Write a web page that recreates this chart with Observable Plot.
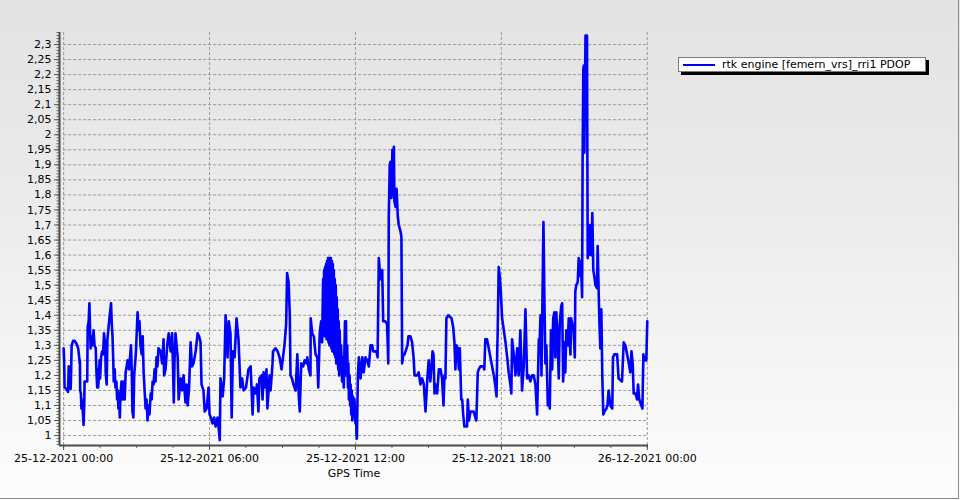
<!DOCTYPE html>
<html><head><meta charset="utf-8">
<script src="https://cdn.jsdelivr.net/npm/d3@7"></script>
<script src="https://cdn.jsdelivr.net/npm/@observablehq/plot@0.6"></script>
<style>
html,body{margin:0;padding:0;background:#fff;}
#wrap{position:relative;width:960px;height:500px;overflow:hidden;background:linear-gradient(to bottom,#e3e3e3 0%,#ebebeb 40%,#fdfdfd 100%);font-family:"DejaVu Sans",sans-serif;}
#chart svg{display:block;}
#frame{position:absolute;left:0;top:0;width:958px;height:498px;border-right:1px solid #8c8c8c;border-bottom:1px solid #8c8c8c;pointer-events:none;}
#legend{position:absolute;left:678px;top:57px;width:246px;height:13px;background:#fff;border:1px solid #7a7a7a;box-shadow:3px 3px 0 #000;font-size:11px;}
#legend .sw{position:absolute;left:4px;top:6px;width:32px;height:2px;background:#0000ff;}
#legend .tx{position:absolute;left:43px;top:0;line-height:13px;white-space:nowrap;color:#000;}
</style></head>
<body>
<div id="wrap"><div id="chart"></div><div id="legend"><div class="sw"></div><div class="tx"></div></div><div id="frame"></div></div>
<script>
// PDOP readings: [hour of 25-12-2021, PDOP]
const pdop0006 = [[0.00,1.29],[0.02,1.25],[0.04,1.16],[0.12,1.155],[0.18,1.145],[0.21,1.23],[0.25,1.17],[0.29,1.155],[0.31,1.22],[0.33,1.30],[0.39,1.315],[0.45,1.315],[0.53,1.305],[0.60,1.29],[0.64,1.26],[0.66,1.24],[0.67,1.25],[0.68,1.15],[0.71,1.14],[0.73,1.09],[0.76,1.12],[0.78,1.09],[0.82,1.035],[0.85,1.11],[0.86,1.18],[0.97,1.18],[0.99,1.36],[1.03,1.38],[1.06,1.44],[1.09,1.34],[1.11,1.29],[1.15,1.33],[1.19,1.30],[1.23,1.35],[1.27,1.30],[1.32,1.29],[1.35,1.21],[1.38,1.16],[1.40,1.22],[1.42,1.16],[1.45,1.20],[1.48,1.25],[1.50,1.19],[1.54,1.26],[1.58,1.28],[1.62,1.27],[1.66,1.34],[1.71,1.30],[1.73,1.21],[1.77,1.17],[1.80,1.32],[1.87,1.38],[1.95,1.44],[1.98,1.37],[2.01,1.33],[2.04,1.25],[2.06,1.18],[2.10,1.22],[2.13,1.16],[2.17,1.18],[2.20,1.12],[2.23,1.15],[2.25,1.09],[2.28,1.13],[2.31,1.06],[2.34,1.14],[2.38,1.18],[2.42,1.12],[2.47,1.18],[2.51,1.12],[2.55,1.21],[2.63,1.25],[2.69,1.22],[2.77,1.30],[2.80,1.22],[2.83,1.08],[2.87,1.06],[2.90,1.20],[2.95,1.25],[2.98,1.29],[3.04,1.41],[3.08,1.35],[3.12,1.38],[3.16,1.30],[3.21,1.27],[3.25,1.33],[3.29,1.21],[3.33,1.15],[3.37,1.09],[3.41,1.12],[3.45,1.05],[3.49,1.10],[3.53,1.07],[3.58,1.14],[3.62,1.12],[3.66,1.18],[3.70,1.17],[3.74,1.22],[3.78,1.18],[3.82,1.26],[3.86,1.23],[3.90,1.29],[3.99,1.28],[4.05,1.24],[4.11,1.32],[4.13,1.20],[4.19,1.22],[4.27,1.31],[4.32,1.34],[4.40,1.28],[4.46,1.34],[4.50,1.22],[4.53,1.11],[4.56,1.25],[4.60,1.34],[4.69,1.26],[4.73,1.12],[4.81,1.19],[4.87,1.15],[4.93,1.20],[5.01,1.11],[5.06,1.17],[5.10,1.10],[5.16,1.16],[5.22,1.31],[5.28,1.23],[5.34,1.24],[5.43,1.28],[5.51,1.34],[5.57,1.33],[5.63,1.31],[5.67,1.17],[5.75,1.15],[5.80,1.08],[5.88,1.09],[5.96,1.16]];
const pdop0612 = [[6.00,1.07],[6.06,1.06],[6.12,1.04],[6.19,1.06],[6.25,1.03],[6.33,1.06],[6.37,1.03],[6.42,0.985],[6.45,1.19],[6.54,1.13],[6.60,1.19],[6.66,1.40],[6.72,1.30],[6.74,1.26],[6.79,1.38],[6.86,1.34],[6.91,1.06],[6.96,1.28],[7.03,1.26],[7.11,1.39],[7.19,1.32],[7.27,1.16],[7.34,1.19],[7.40,1.15],[7.50,1.16],[7.60,1.22],[7.69,1.23],[7.77,1.07],[7.81,1.16],[7.89,1.14],[7.95,1.17],[8.01,1.08],[8.05,1.19],[8.14,1.20],[8.18,1.12],[8.22,1.21],[8.28,1.16],[8.34,1.22],[8.38,1.09],[8.47,1.20],[8.51,1.15],[8.59,1.24],[8.61,1.28],[8.71,1.29],[8.80,1.28],[8.88,1.26],[8.96,1.22],[9.02,1.26],[9.08,1.30],[9.15,1.37],[9.19,1.54],[9.25,1.51],[9.30,1.40],[9.33,1.20],[9.39,1.19],[9.45,1.17],[9.54,1.15],[9.61,1.27],[9.67,1.13],[9.71,1.08],[9.77,1.24],[9.85,1.23],[9.91,1.25],[9.98,1.24],[10.02,1.26],[10.08,1.22],[10.15,1.20],[10.16,1.39],[10.22,1.34],[10.29,1.33],[10.36,1.27],[10.43,1.26],[10.47,1.16],[10.53,1.34],[10.59,1.38],[10.63,1.31],[10.67,1.52],[10.69,1.36],[10.71,1.55],[10.73,1.33],[10.75,1.56],[10.77,1.34],[10.79,1.57],[10.81,1.32],[10.83,1.58],[10.85,1.35],[10.87,1.59],[10.89,1.31],[10.91,1.59],[10.93,1.30],[10.95,1.59],[10.97,1.33],[10.99,1.59],[11.01,1.29],[11.03,1.58],[11.05,1.28],[11.07,1.57],[11.09,1.30],[11.11,1.55],[11.13,1.27],[11.15,1.52],[11.17,1.26],[11.19,1.50],[11.21,1.24],[11.23,1.46],[11.25,1.25],[11.27,1.42],[11.29,1.22],[11.31,1.38],[11.33,1.20],[11.35,1.35],[11.38,1.22],[11.41,1.30],[11.45,1.18],[11.48,1.26],[11.52,1.16],[11.55,1.30],[11.57,1.38],[11.59,1.20],[11.61,1.38],[11.63,1.22],[11.66,1.30],[11.69,1.16],[11.71,1.24],[11.73,1.12],[11.76,1.20],[11.78,1.10],[11.80,1.17],[11.83,1.07],[11.85,1.15],[11.87,1.05],[11.90,1.13],[11.93,1.06],[11.96,1.12]];
const pdop1218 = [[12.00,1.04],[12.02,1.09],[12.04,1.01],[12.06,0.99],[12.10,1.20],[12.14,1.26],[12.21,1.19],[12.28,1.26],[12.34,1.21],[12.41,1.26],[12.48,1.25],[12.55,1.23],[12.62,1.30],[12.69,1.30],[12.73,1.28],[12.86,1.28],[12.91,1.26],[12.96,1.59],[13.03,1.52],[13.10,1.55],[13.14,1.38],[13.23,1.38],[13.30,1.37],[13.35,1.24],[13.37,1.73],[13.41,1.90],[13.44,1.91],[13.48,1.79],[13.52,1.95],[13.55,1.80],[13.58,1.96],[13.60,1.78],[13.65,1.76],[13.69,1.82],[13.74,1.73],[13.78,1.70],[13.85,1.68],[13.89,1.66],[13.92,1.24],[13.97,1.27],[14.02,1.27],[14.06,1.28],[14.14,1.30],[14.18,1.33],[14.26,1.33],[14.33,1.31],[14.39,1.26],[14.43,1.20],[14.54,1.20],[14.60,1.21],[14.67,1.17],[14.74,1.19],[14.81,1.17],[14.88,1.08],[14.95,1.18],[15.01,1.25],[15.08,1.18],[15.17,1.28],[15.21,1.27],[15.25,1.14],[15.30,1.17],[15.36,1.14],[15.43,1.22],[15.50,1.22],[15.56,1.19],[15.62,1.10],[15.66,1.20],[15.70,1.19],[15.74,1.39],[15.82,1.40],[15.95,1.39],[16.02,1.36],[16.07,1.31],[16.11,1.22],[16.15,1.30],[16.21,1.29],[16.25,1.22],[16.29,1.29],[16.35,1.12],[16.39,1.12],[16.43,1.07],[16.48,1.03],[16.59,1.03],[16.62,1.12],[16.67,1.05],[16.73,1.08],[16.80,1.08],[16.86,1.08],[16.97,1.05],[17.03,1.21],[17.07,1.22],[17.14,1.23],[17.25,1.23],[17.30,1.22],[17.34,1.32],[17.41,1.32],[17.48,1.29],[17.55,1.26],[17.62,1.23],[17.69,1.20],[17.76,1.16],[17.80,1.13],[17.83,1.28],[17.85,1.35],[17.89,1.56],[17.93,1.53],[17.97,1.49]];
const pdop1824 = [[18.03,1.39],[18.10,1.35],[18.17,1.31],[18.24,1.26],[18.30,1.21],[18.37,1.17],[18.41,1.14],[18.44,1.32],[18.51,1.27],[18.58,1.20],[18.65,1.29],[18.71,1.20],[18.78,1.35],[18.85,1.15],[18.92,1.23],[18.99,1.42],[19.06,1.19],[19.12,1.20],[19.19,1.18],[19.26,1.20],[19.33,1.20],[19.40,1.17],[19.47,1.07],[19.54,1.32],[19.56,1.28],[19.61,1.40],[19.65,1.20],[19.73,1.71],[19.77,1.45],[19.81,1.24],[19.85,1.30],[19.91,1.10],[19.95,1.15],[19.99,1.09],[20.04,1.35],[20.09,1.22],[20.13,1.39],[20.18,1.41],[20.22,1.26],[20.26,1.41],[20.32,1.30],[20.36,1.19],[20.40,1.37],[20.46,1.43],[20.50,1.44],[20.54,1.18],[20.59,1.31],[20.63,1.21],[20.67,1.35],[20.73,1.30],[20.77,1.39],[20.81,1.31],[20.84,1.27],[20.87,1.39],[20.92,1.37],[20.97,1.35],[21.02,1.26],[21.04,1.48],[21.08,1.50],[21.14,1.51],[21.18,1.59],[21.22,1.58],[21.25,1.53],[21.28,1.56],[21.32,1.46],[21.34,1.91],[21.37,2.22],[21.39,2.23],[21.41,1.94],[21.46,2.33],[21.52,2.33],[21.55,1.59],[21.58,1.67],[21.60,1.60],[21.63,1.70],[21.66,1.69],[21.70,1.60],[21.74,1.74],[21.78,1.55],[21.82,1.53],[21.87,1.50],[21.93,1.49],[21.96,1.63],[22.00,1.48],[22.03,1.38],[22.07,1.29],[22.11,1.42],[22.15,1.20],[22.19,1.07],[22.24,1.08],[22.32,1.09],[22.36,1.10],[22.41,1.15],[22.48,1.10],[22.56,1.09],[22.59,1.26],[22.65,1.27],[22.76,1.27],[22.82,1.19],[22.96,1.18],[23.03,1.31],[23.10,1.30],[23.17,1.27],[23.24,1.24],[23.30,1.21],[23.35,1.28],[23.40,1.24],[23.44,1.14],[23.51,1.14],[23.58,1.12],[23.62,1.17],[23.67,1.12],[23.80,1.09],[23.84,1.27],[23.88,1.25],[23.96,1.25],[24.00,1.38]];

const yTickValues = [1,1.05,1.1,1.15,1.2,1.25,1.3,1.35,1.4,1.45,1.5,1.55,1.6,1.65,1.7,1.75,1.8,1.85,1.9,1.95,2,2.05,2.1,2.15,2.2,2.25,2.3];
const xTickHours = [0,6,12,18,24];
const xMinorHours = [0,1.5,3,4.5,6,7.5,9,10.5,12,13.5,15,16.5,18,19.5,21,22.5,24];
const seriesName = "rtk engine [femern_vrs]_rri1 PDOP";
const xTitle = "GPS Time";

const day0 = Date.UTC(2021, 11, 25);
const toDate = h => new Date(day0 + h * 3600000);
const data = [...pdop0006, ...pdop0612, ...pdop1218, ...pdop1824].map(([h, v]) => ({time: toDate(h), pdop: v}));
const xMajor = xTickHours.map(toDate);
const xMinor = xMinorHours.map(toDate);
const yMin = 0.967, yMax = 2.34;
const xLo = toDate(-0.17), xHi = toDate(24.05);
const yMinor = d3.range(97, 235).map(d => d / 100);
const fmtY = d => d.toFixed(2).replace(/0+$/, "").replace(/\.$/, "").replace(".", ",");
const fmtX = d3.utcFormat("%d-%m-%Y %H:%M");

const chart = Plot.plot({
  width: 960, height: 500,
  marginLeft: 59, marginRight: 312, marginTop: 32, marginBottom: 55,
  style: {background: "transparent", fontFamily: "DejaVu Sans, sans-serif", fontSize: "11px", color: "#000", overflow: "visible"},
  x: {type: "utc", domain: [xLo, xHi]},
  y: {domain: [yMin, yMax]},
  marks: [
    Plot.ruleY(yTickValues, {y: d => d, x1: () => xMajor[0], x2: () => xMajor[4], stroke: "#9a9a9a", strokeWidth: 1, strokeDasharray: "3,2"}),
    Plot.ruleX(xMajor, {x: d => d, y1: () => yMin, y2: () => yMax, stroke: "#9a9a9a", strokeWidth: 1, strokeDasharray: "3,2"}),
    Plot.axisY(yMinor, {anchor: "left", tickSize: 2.5, tickFormat: () => "", label: null, stroke: "#666"}),
    Plot.axisY(yTickValues, {anchor: "left", tickSize: 5, tickPadding: 3, tickFormat: fmtY, label: null, stroke: "#555"}),
    Plot.axisX(xMinor, {anchor: "bottom", tickSize: 3, tickFormat: () => "", label: null, stroke: "#666"}),
    Plot.axisX(xMajor, {anchor: "bottom", tickSize: 5, tickPadding: 4, tickFormat: fmtX, label: null, stroke: "#555"}),
    Plot.ruleX([xLo], {stroke: "#4a4a4a", strokeWidth: 2}),
    Plot.ruleY([yMin], {stroke: "#4a4a4a", strokeWidth: 2}),
    Plot.text([xTitle], {frameAnchor: "bottom", dy: 28, lineAnchor: "middle", fill: "#000"}),
    Plot.line(data, {x: "time", y: "pdop", stroke: "#0000ff", strokeWidth: 2.6, strokeLinejoin: "round"})
  ]
});
document.getElementById("chart").appendChild(chart);
document.querySelector("#legend .tx").textContent = seriesName;
</script>
</body></html>
